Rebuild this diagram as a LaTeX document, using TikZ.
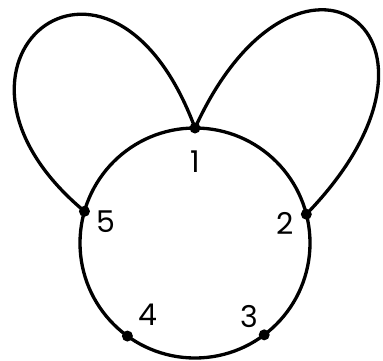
\documentclass[tikz,border=0pt]{standalone}
\usepackage{fontspec}
\setmainfont{Poppins}
\usetikzlibrary{positioning,calc}
\tikzset{
  graphedge/.style={line width=3.3pt, draw=black, line cap=round},
  vertex/.style={circle, fill=black, inner sep=0pt, minimum size=11pt},
  numlabel/.style={font=\fontsize{30}{30}\selectfont, inner sep=1pt}
}
\begin{document}
\begin{tikzpicture}[x=1pt, y=1pt]
\useasboundingbox (0,0) rectangle (383,360);
\coordinate (ctr) at (195,117);
\draw[graphedge] (ctr) circle[radius=115];

\node[vertex] (v1) at ($(ctr)+(90:115)$) {};
\node[vertex] (v2) at ($(ctr)+(14.5:115)$) {};
\node[vertex] (v3) at ($(ctr)+(-53:115)$) {};
\node[vertex] (v4) at ($(ctr)+(-126:115)$) {};
\node[vertex] (v5) at ($(ctr)+(164:115)$) {};

\draw[graphedge] (v1.center) .. controls (109.5,462) and (-92,296) .. (v5.center);
\draw[graphedge] (v1.center) .. controls (297,455) and (481,326) .. (v2.center);

\node[numlabel] (l1) at (195,198) {1};
\node[numlabel] (l2) at (285,137) {2};
\node[numlabel] (l3) at (249,43) {3};
\node[numlabel] (l4) at (148,45) {4};
\node[numlabel] (l5) at (106,138) {5};
\end{tikzpicture}
\end{document}
